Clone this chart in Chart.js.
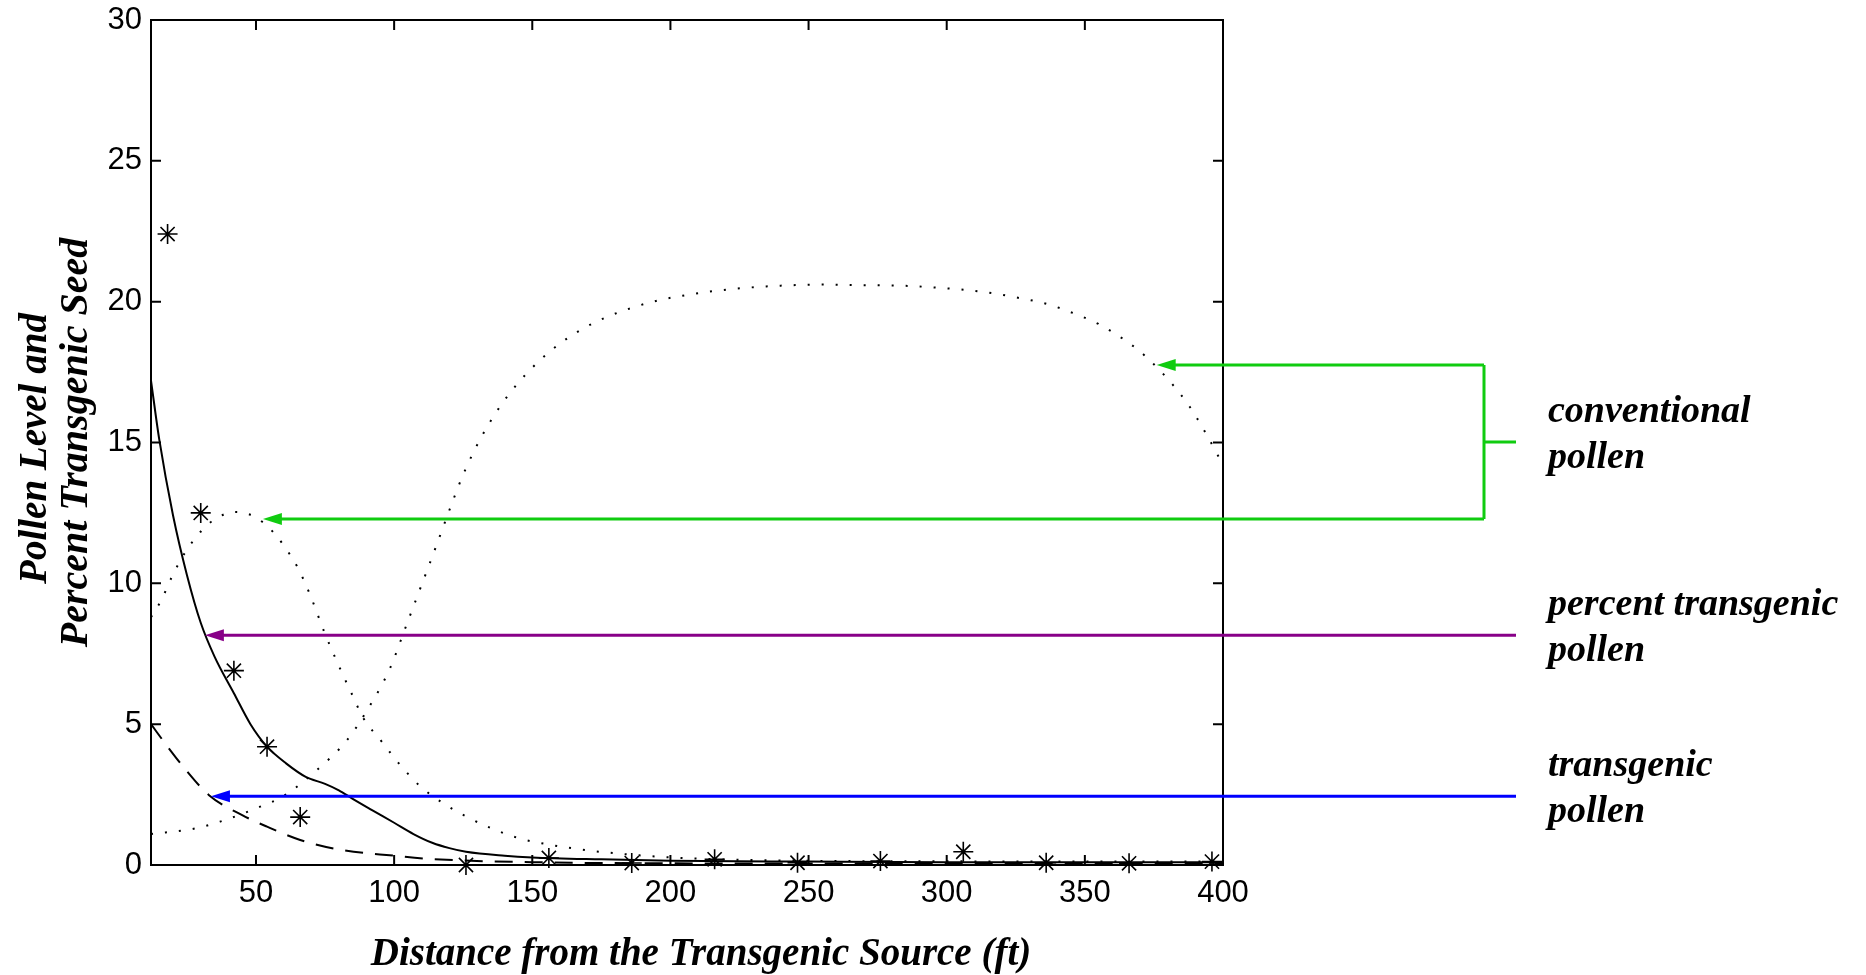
<!DOCTYPE html>
<html>
<head>
<meta charset="utf-8">
<script src="https://cdn.jsdelivr.net/npm/chart.js@4.4.1/dist/chart.umd.min.js"></script>
<style>
  html, body { margin: 0; padding: 0; background: #fff; }
  canvas { display: block; }
</style>
</head>
<body>
<canvas id="pollenChart" width="1866" height="975"></canvas>
<script>
// measured percent transgenic seed (asterisks)
const obsDistance = [18, 30, 42, 54, 66, 126, 156, 186, 216, 246, 276, 306, 336, 366, 396];
const obsPercent = [22.4, 12.5, 6.9, 4.2, 1.7, 0.0, 0.25, 0.07, 0.2, 0.08, 0.14, 0.47, 0.08, 0.06, 0.12];

// fitted percent transgenic pollen (solid)
const seedDistance = [12, 15, 20, 25, 30, 35, 42, 48, 54, 61, 68, 75, 80, 85, 92, 100, 107, 114, 120, 126, 140, 150, 175, 200, 250, 300, 400];
const seedPercent = [17.2, 15.1, 12.4, 10.3, 8.6, 7.4, 6.1, 5.0, 4.2, 3.6, 3.13, 2.88, 2.65, 2.35, 1.95, 1.5, 1.1, 0.78, 0.6, 0.47, 0.33, 0.27, 0.2, 0.15, 0.12, 0.1, 0.1];

// transgenic pollen (dashed)
const tgDistance = [12, 18, 24, 33, 45, 54, 66, 80, 100, 114, 150, 200, 250, 300, 400];
const tgPollen = [5.0, 4.2, 3.45, 2.48, 1.77, 1.36, 0.89, 0.55, 0.33, 0.21, 0.1, 0.06, 0.05, 0.05, 0.05];

// conventional pollen, near field (dotted)
const nearDistance = [12, 15.6, 19.8, 24.7, 30.8, 36, 42, 47, 52.7, 56.5, 59.7, 65.1, 69.3, 74.7, 80.4, 84.6, 88.9, 95.5, 102.2, 109.4, 117.8, 126.3, 135.3, 145.5, 155.2, 164.8, 174.5, 200, 250, 300, 400];
const nearPollen = [8.8, 9.38, 10.28, 11.15, 11.92, 12.33, 12.53, 12.47, 12.15, 11.79, 11.39, 10.56, 9.66, 8.28, 6.98, 6.09, 5.21, 4.38, 3.55, 2.8, 2.19, 1.71, 1.3, 0.94, 0.74, 0.59, 0.47, 0.27, 0.15, 0.13, 0.12];

// conventional pollen, far field (dotted)
const farDistance = [12, 27, 37, 51.5, 60, 72, 83, 91, 98.5, 104, 109, 114, 121, 124.6, 128.8, 133.5, 138.9, 145.1, 152.1, 159.7, 168.1, 177.1, 186.6, 196.2, 206.1, 216, 226, 236, 246, 256, 266, 276, 286, 296, 306.5, 316.4, 326.3, 336.2, 345.6, 354.9, 363.5, 371.5, 382, 388, 393.2, 398.1, 400];
const farPollen = [1.1, 1.28, 1.54, 2.07, 2.45, 3.37, 4.44, 5.62, 6.98, 8.4, 9.7, 11.0, 12.86, 13.77, 14.67, 15.53, 16.36, 17.14, 17.86, 18.49, 19.03, 19.46, 19.8, 20.06, 20.24, 20.38, 20.48, 20.55, 20.59, 20.61, 20.59, 20.58, 20.56, 20.5, 20.42, 20.3, 20.13, 19.92, 19.6, 19.21, 18.7, 18.1, 17.03, 16.26, 15.43, 14.55, 14.2];

const xTicks = [50, 100, 150, 200, 250, 300, 350, 400];
const yTicks = [0, 5, 10, 15, 20, 25, 30];

// annotation arrows: where each arrow points (data units)
const arrowTips = {
  convFar: [376, 17.75],
  convNear: [52.5, 12.28],
  percent: [31.5, 8.16],
  transgenic: [33.7, 2.44]
};

const GREEN = '#10cc10';
const PURPLE = '#880088';
const BLUE = '#0000ff';
const SERIF = 'italic bold 38px "Liberation Serif", "Times New Roman", serif';

function pts(xs, ys) {
  return xs.map((x, i) => ({ x: x, y: ys[i] }));
}

function arrow(ctx, tipX, tipY, tailX, color) {
  const head = 19;
  ctx.strokeStyle = color;
  ctx.fillStyle = color;
  ctx.lineWidth = 3;
  ctx.beginPath();
  ctx.moveTo(tailX, tipY);
  ctx.lineTo(tipX + head - 2, tipY);
  ctx.stroke();
  ctx.beginPath();
  ctx.moveTo(tipX, tipY);
  ctx.lineTo(tipX + head, tipY - 6);
  ctx.lineTo(tipX + head, tipY + 6);
  ctx.closePath();
  ctx.fill();
}

const frameAndNotes = {
  id: 'frameAndNotes',
  afterDatasetsDraw(chart) {
    const ctx = chart.ctx;
    const a = chart.chartArea;
    const xs = chart.scales.x;
    const ys = chart.scales.y;
    ctx.save();

    // box + inward ticks on all four sides
    ctx.strokeStyle = '#000';
    ctx.lineWidth = 2;
    ctx.strokeRect(a.left, a.top, a.right - a.left, a.bottom - a.top);
    ctx.beginPath();
    xTicks.forEach(v => {
      const px = xs.getPixelForValue(v);
      ctx.moveTo(px, a.bottom); ctx.lineTo(px, a.bottom - 10);
      ctx.moveTo(px, a.top); ctx.lineTo(px, a.top + 10);
    });
    yTicks.forEach(v => {
      const py = ys.getPixelForValue(v);
      ctx.moveTo(a.left, py); ctx.lineTo(a.left + 10, py);
      ctx.moveTo(a.right, py); ctx.lineTo(a.right - 10, py);
    });
    ctx.stroke();

    // annotation arrows
    const bracketX = a.right + 261;
    const stubX = a.right + 293;
    const textX = a.right + 325;
    const pos = t => [xs.getPixelForValue(t[0]), ys.getPixelForValue(t[1])];

    const far = pos(arrowTips.convFar);
    const near = pos(arrowTips.convNear);
    arrow(ctx, far[0], far[1], bracketX, GREEN);
    arrow(ctx, near[0], near[1], bracketX, GREEN);
    const midY = (far[1] + near[1]) / 2;
    ctx.strokeStyle = GREEN;
    ctx.lineWidth = 3;
    ctx.beginPath();
    ctx.moveTo(bracketX, far[1]);
    ctx.lineTo(bracketX, near[1]);
    ctx.moveTo(bracketX, midY);
    ctx.lineTo(stubX, midY);
    ctx.stroke();

    const pct = pos(arrowTips.percent);
    arrow(ctx, pct[0], pct[1], stubX, PURPLE);
    const tg = pos(arrowTips.transgenic);
    arrow(ctx, tg[0], tg[1], stubX, BLUE);

    ctx.fillStyle = '#000';
    ctx.font = SERIF;
    ctx.textAlign = 'left';
    ctx.textBaseline = 'alphabetic';
    const label = (y, l1, l2) => {
      ctx.fillText(l1, textX, y - 20);
      ctx.fillText(l2, textX, y + 26);
    };
    label(midY, 'conventional', 'pollen');
    label(pct[1], 'percent transgenic', 'pollen');
    label(tg[1], 'transgenic', 'pollen');

    // axis titles
    ctx.textAlign = 'center';
    ctx.font = SERIF.replace('38px', '39px');
    ctx.fillText('Distance from the Transgenic Source (ft)', (a.left + a.right) / 2 + 14, 965);
    const cy = (a.top + a.bottom) / 2;
    ctx.save();
    ctx.translate(46, cy + 6);
    ctx.rotate(-Math.PI / 2);
    ctx.fillText('Pollen Level and', 0, 0);
    ctx.restore();
    ctx.save();
    ctx.font = SERIF.replace('38px', '40px');
    ctx.translate(87, cy);
    ctx.rotate(-Math.PI / 2);
    ctx.fillText('Percent Transgenic Seed', 0, 0);
    ctx.restore();

    ctx.restore();
  }
};

const tickFont = { family: '"Liberation Sans", Arial, sans-serif', size: 31 };

const chart = new Chart(document.getElementById('pollenChart').getContext('2d'), {
  type: 'scatter',
  data: {
    datasets: [
      {
        label: 'percent transgenic pollen',
        data: pts(seedDistance, seedPercent),
        showLine: true, borderColor: '#000', borderWidth: 2,
        pointRadius: 0, cubicInterpolationMode: 'monotone'
      },
      {
        label: 'transgenic pollen',
        data: pts(tgDistance, tgPollen),
        showLine: true, borderColor: '#000', borderWidth: 2, borderDash: [18, 12],
        pointRadius: 0, cubicInterpolationMode: 'monotone'
      },
      {
        label: 'conventional pollen (near)',
        data: pts(nearDistance, nearPollen),
        showLine: true, borderColor: '#000', borderWidth: 2, borderDash: [2, 12],
        pointRadius: 0, cubicInterpolationMode: 'monotone'
      },
      {
        label: 'conventional pollen (far)',
        data: pts(farDistance, farPollen),
        showLine: true, borderColor: '#000', borderWidth: 2, borderDash: [2, 12],
        pointRadius: 0, cubicInterpolationMode: 'monotone'
      },
      {
        label: 'percent transgenic seed',
        data: pts(obsDistance, obsPercent),
        showLine: false, pointStyle: 'star', pointRadius: 10,
        borderColor: '#000', borderWidth: 1.6, clip: false
      }
    ]
  },
  options: {
    responsive: false,
    animation: false,
    layout: { padding: { top: 20, right: 643, left: 0, bottom: 0 } },
    plugins: { legend: { display: false }, tooltip: { enabled: false } },
    scales: {
      x: {
        type: 'linear', min: 12, max: 400,
        afterBuildTicks: s => { s.ticks = xTicks.map(v => ({ value: v })); },
        afterFit: s => { s.height = 110; s.paddingLeft = 0; s.paddingRight = 0; },
        grid: { display: false, drawTicks: false },
        border: { display: false },
        ticks: { font: tickFont, color: '#000', padding: 10, maxRotation: 0 }
      },
      y: {
        type: 'linear', min: 0, max: 30,
        afterBuildTicks: s => { s.ticks = yTicks.map(v => ({ value: v })); },
        afterFit: s => { s.width = 151; s.paddingTop = 0; s.paddingBottom = 0; },
        grid: { display: false, drawTicks: false },
        border: { display: false },
        ticks: { font: tickFont, color: '#000', padding: 9 }
      }
    }
  },
  plugins: [frameAndNotes]
});
</script>
</body>
</html>
